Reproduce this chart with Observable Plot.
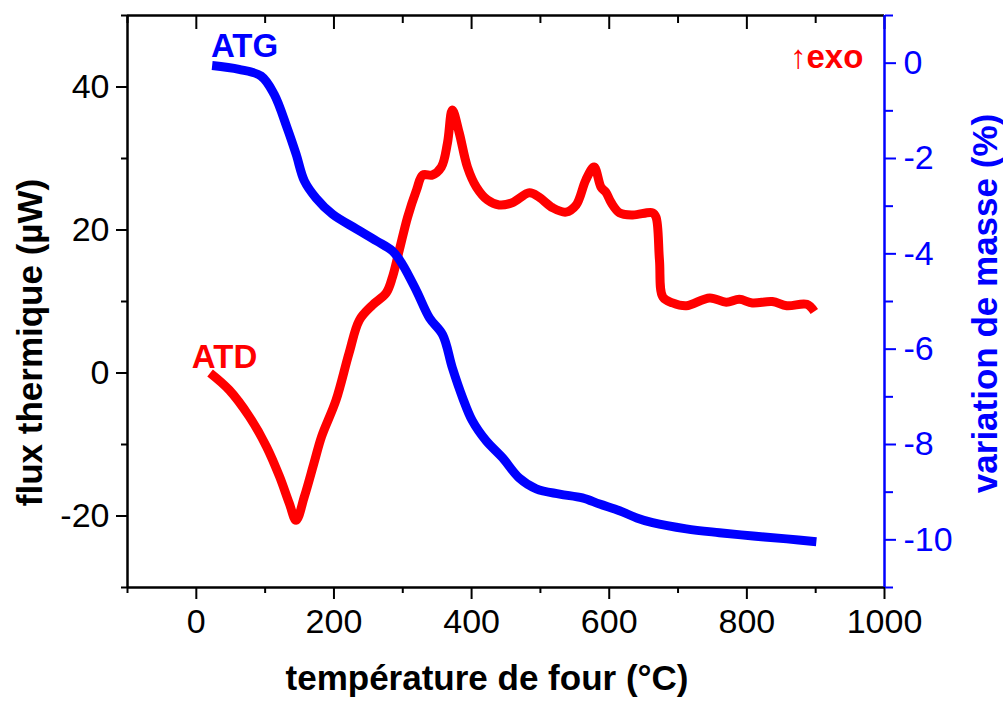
<!DOCTYPE html>
<html>
<head>
<meta charset="utf-8">
<script src="https://cdn.jsdelivr.net/npm/d3@7"></script>
<script src="https://cdn.jsdelivr.net/npm/@observablehq/plot@0.6"></script>
<style>
  html, body { margin: 0; padding: 0; background: #ffffff; }
  #chart svg { display: block; }
</style>
</head>
<body>
<div id="chart"></div>
<script>
// ---- ATD (thermal flux, left axis, µW) ----
const atdTemp = [20, 48, 77, 102, 121, 135, 145, 157, 171, 182, 203, 222, 237, 256, 276, 285, 295, 307, 320, 329, 343, 356, 365, 372, 382, 394, 407, 423, 440, 459, 484, 498, 518, 537, 552, 566, 578, 588, 595, 603, 615, 634, 663, 668, 673, 678, 692, 712, 746, 770, 789, 808, 837, 858, 887, 898];
const atdFlux = [0, -2.4, -6.1, -10.3, -14.5, -18.2, -20.6, -17.3, -12.6, -8.9, -3.8, 2.8, 7.4, 9.5, 11.2, 13.4, 17.2, 21.8, 25.6, 27.7, 27.7, 28.8, 32.2, 36.8, 33.6, 28.8, 26.0, 24.2, 23.5, 23.8, 25.2, 24.6, 23.1, 22.5, 23.5, 27.0, 28.8, 26.0, 25.3, 23.8, 22.4, 22.1, 22.4, 21.8, 15.8, 10.6, 9.8, 9.4, 10.5, 9.9, 10.3, 9.8, 10.0, 9.4, 9.6, 8.6];

// ---- ATG (mass variation, right axis, %) ----
const atgTemp = [23, 62, 94, 113, 132, 145, 157, 174, 198, 233, 262, 285, 299, 320, 339, 358, 372, 387, 401, 421, 445, 469, 494, 528, 561, 586, 615, 640, 663, 712, 760, 809, 858, 901];
const atgMass = [-0.05, -0.13, -0.27, -0.65, -1.36, -1.91, -2.47, -2.83, -3.17, -3.48, -3.73, -3.94, -4.21, -4.78, -5.35, -5.7, -6.39, -7.02, -7.5, -7.92, -8.28, -8.7, -8.93, -9.04, -9.12, -9.25, -9.39, -9.54, -9.64, -9.77, -9.85, -9.92, -9.98, -10.04];

// ---- ticks ----
const xMajor = [0, 200, 400, 600, 800, 1000];
const xMinor = [-100, 100, 300, 500, 700, 900];
const yLeftMajor = [-20, 0, 20, 40];
const yLeftMinor = [-30, -10, 10, 30, 50];
const yRightMajor = [-10, -8, -6, -4, -2, 0];
const yRightMinor = [-11, -9, -7, -5, -3, -1, 1];

// ---- texts ----
const xTitle = "température de four (°C)";
const yLeftTitle = "flux thermique (µW)";
const yRightTitle = "variation de masse (%)";
const seriesLabels = ["ATG", "ATD", "↑exo"];
const seriesLabelTemp = [70, 41, 916];
const seriesLabelFlux = [45.7, 2.2, 44.2];

const xDomain = [-100, 1000];
const fluxDomain = [-30, 50];
const massDomain = [-11, 1];
const massToFlux = d3.scaleLinear(massDomain, fluxDomain);

const RED = "#ff0000", BLUE = "#0000ff";
const FONT = "'Liberation Sans', Arial, Helvetica, sans-serif";

const atd = atdTemp.map((t, i) => ({t, v: atdFlux[i]}));
const atg = atgTemp.map((t, i) => ({t, m: atgMass[i]}));
const labels = seriesLabels.map((s, i) => ({s, t: seriesLabelTemp[i], v: seriesLabelFlux[i], c: i === 0 ? BLUE : RED}));

const fmt = d => String(Math.round(d * 100) / 100);
const blank = () => "";

const chart = Plot.plot({
  width: 1003,
  height: 702,
  marginLeft: 127,
  marginRight: 119,
  marginTop: 15,
  marginBottom: 115,
  x: {domain: xDomain},
  y: {domain: fluxDomain},
  style: {fontFamily: FONT, background: "#ffffff", color: "#000000"},
  marks: [
    // bottom axis
    Plot.axisX(xMajor, {anchor: "bottom", tickSize: 12, tickPadding: 9, fontSize: 34, strokeWidth: 2, tickFormat: fmt, label: null}),
    Plot.axisX(xMinor, {anchor: "bottom", tickSize: 6, strokeWidth: 2, tickFormat: blank, label: null}),
    // top mirror ticks (inward)
    Plot.axisX(xMajor, {anchor: "top", tickSize: -13, strokeWidth: 2, tickFormat: blank, label: null}),
    Plot.axisX(xMinor, {anchor: "top", tickSize: -7, strokeWidth: 2, tickFormat: blank, label: null}),
    // left axis
    Plot.axisY(yLeftMajor, {anchor: "left", tickSize: 11, tickPadding: 7, fontSize: 34, strokeWidth: 2, tickFormat: fmt, label: null}),
    Plot.axisY(yLeftMinor, {anchor: "left", tickSize: 6, strokeWidth: 2, tickFormat: blank, label: null}),
    // right axis (mass)
    Plot.axisY(yRightMajor.map(massToFlux), {anchor: "right", tickSize: 11, tickPadding: 8, fontSize: 34, strokeWidth: 2, color: BLUE, tickFormat: d => fmt(massToFlux.invert(d)), label: null}),
    Plot.axisY(yRightMinor.map(massToFlux), {anchor: "right", tickSize: 8, strokeWidth: 2, color: BLUE, tickFormat: blank, label: null}),
    // frame
    Plot.ruleY([fluxDomain[0]], {stroke: "#000000", strokeWidth: 2.5}),
    Plot.ruleY([fluxDomain[1]], {stroke: "#000000", strokeWidth: 2.5}),
    Plot.ruleX([xDomain[0]], {stroke: "#000000", strokeWidth: 2.5}),
    Plot.ruleX([xDomain[1]], {stroke: BLUE, strokeWidth: 2.5}),
    // data
    Plot.line(atd, {x: "t", y: "v", stroke: RED, strokeWidth: 9, curve: "catmull-rom", strokeLinecap: "butt", strokeLinejoin: "round"}),
    Plot.line(atg, {x: "t", y: d => massToFlux(d.m), stroke: BLUE, strokeWidth: 9, curve: "catmull-rom", strokeLinecap: "butt", strokeLinejoin: "round"}),
    // series labels
    Plot.text(labels, {x: "t", y: "v", text: "s", fill: "c", fontSize: 33, fontWeight: "bold", textAnchor: "middle"}),
    // axis titles
    Plot.text([xTitle], {frameAnchor: "bottom", textAnchor: "middle", dx: -19, dy: 102, fontSize: 35, fontWeight: "bold", fill: "#000000"}),
    Plot.text([yLeftTitle], {frameAnchor: "left", textAnchor: "middle", rotate: -90, dx: -97, dy: 41, fontSize: 35, fontWeight: "bold", fill: "#000000"}),
    Plot.text([yRightTitle], {frameAnchor: "right", textAnchor: "middle", rotate: -90, dx: 101, dy: 2, fontSize: 35, fontWeight: "bold", fill: BLUE})
  ]
});

document.getElementById("chart").appendChild(chart);
</script>
</body>
</html>
